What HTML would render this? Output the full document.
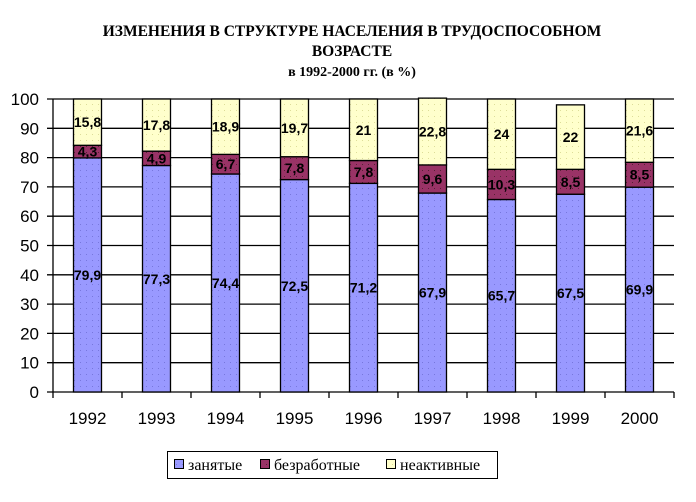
<!DOCTYPE html>
<html><head><meta charset="utf-8"><style>
body{margin:0;background:#fff;width:696px;height:502px;overflow:hidden}
svg{display:block}
.ser{font-family:"Liberation Serif",serif}
.san{font-family:"Liberation Sans",sans-serif}
</style></head><body>
<svg width="696" height="502" xmlns="http://www.w3.org/2000/svg">
<defs>
<pattern id="pb" width="6" height="6" patternUnits="userSpaceOnUse"><rect width="6" height="6" fill="#9999ff"/><rect x="2" y="2" width="1" height="1" fill="#7777dd"/></pattern>
<pattern id="pm" width="6" height="6" patternUnits="userSpaceOnUse"><rect width="6" height="6" fill="#993366"/><rect x="2" y="2" width="1" height="1" fill="#552233"/></pattern>
<pattern id="py" width="6" height="6" patternUnits="userSpaceOnUse"><rect width="6" height="6" fill="#ffffcc"/><rect x="2" y="2" width="1" height="1" fill="#dddd99"/></pattern>
</defs>
<g class="ser" style="font-weight:bold;font-size:15.5px" text-anchor="middle" fill="#000">
<text x="352" y="36">ИЗМЕНЕНИЯ В СТРУКТУРЕ НАСЕЛЕНИЯ В ТРУДОСПОСОБНОМ</text>
<text x="352" y="56">ВОЗРАСТЕ</text>
<text x="352" y="76" style="font-size:14px">в 1992-2000 гг. (в %)</text>
</g>
<g id="grid" stroke="#000" stroke-width="1.3"></g>
<g id="bars"></g>
<rect x="167.5" y="451.5" width="330" height="27" fill="#fff" stroke="#000"/>
<g class="ser" style="font-size:16px" fill="#000">
<rect x="174.5" y="459.5" width="9" height="9" fill="url(#pb)" stroke="#000"/>
<text x="188" y="470">занятые</text>
<rect x="260.5" y="459.5" width="9" height="9" fill="url(#pm)" stroke="#000"/>
<text x="274" y="470">безработные</text>
<rect x="386.5" y="459.5" width="9" height="9" fill="url(#py)" stroke="#000"/>
<text x="400" y="470">неактивные</text>
</g>
</svg>
<script>
var ns="http://www.w3.org/2000/svg";
function el(p,t,a,txt){var e=document.createElementNS(ns,t);for(var k in a)e.setAttribute(k,a[k]);if(txt!=null)e.textContent=txt;p.appendChild(e);return e;}
var g=document.getElementById('grid'),b=document.getElementById('bars');
var Y=function(v){return 392-2.93*v;};
for(var i=0;i<=10;i++){var y=Y(i*10);
 el(g,'line',{x1:47,x2:674,y1:y,y2:y});
 el(b,'text',{x:39,y:y+6,'text-anchor':'end','class':'san','style':'font-size:17px'},String(i*10));}
el(g,'line',{x1:53,x2:53,y1:Y(100),y2:392});
for(var i=0;i<=9;i++)el(g,'line',{x1:53+69*i,x2:53+69*i,y1:392,y2:398});
var d=[[1992,79.9,4.3,15.8],[1993,77.3,4.9,17.8],[1994,74.4,6.7,18.9],[1995,72.5,7.8,19.7],[1996,71.2,7.8,21],[1997,67.9,9.6,22.8],[1998,65.7,10.3,24],[1999,67.5,8.5,22],[2000,69.9,8.5,21.6]];
var f=['url(#pb)','url(#pm)','url(#py)'];
d.forEach(function(r,i){var cx=53+69*i+34.5,x=cx-14,acc=0;
 for(var k=1;k<=3;k++){var v=r[k],y1=Y(acc),y2=Y(acc+v);
  el(b,'rect',{x:x,y:y2,width:28,height:y1-y2,fill:f[k-1],stroke:'#000','stroke-width':1.3});
  acc+=v;}
 acc=0;
 for(var k=1;k<=3;k++){var v=r[k];var ym=(Y(acc)+Y(acc+v))/2;
  el(b,'text',{x:cx,y:ym+5,'text-anchor':'middle','class':'san','style':'font-size:14px;font-weight:bold'},String(v).replace('.',','));
  acc+=v;}
 el(b,'text',{x:cx,y:424,'text-anchor':'middle','class':'san','style':'font-size:17px'},String(r[0]));
});
</script>
</body></html>
